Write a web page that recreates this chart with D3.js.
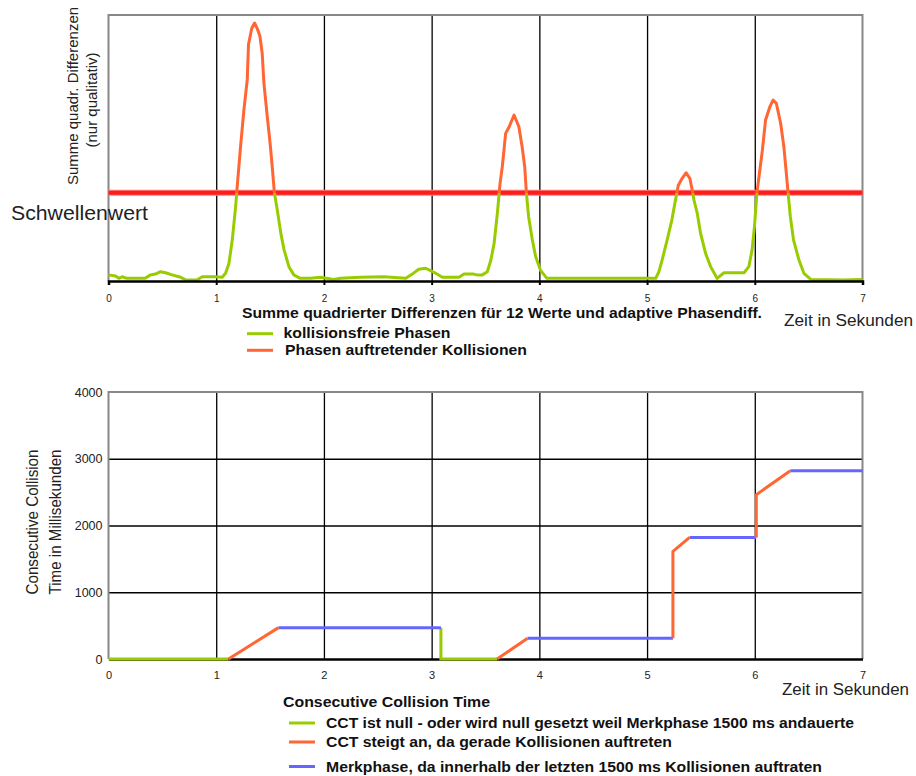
<!DOCTYPE html>
<html>
<head>
<meta charset="utf-8">
<script src="https://cdn.jsdelivr.net/npm/d3@7"></script>
<style>
  body { margin: 0; background: #fff; }
  svg { font-family: "Liberation Sans", Arial, sans-serif; }
</style>
</head>
<body>
<svg width="916" height="776"></svg>
<script>
// top chart: sum of squared differences (qualitative), time in seconds
const sigT = [0, 0.065, 0.096, 0.127, 0.17, 0.34, 0.39, 0.436, 0.483, 0.53, 0.59, 0.67, 0.715, 0.82, 0.87, 0.99,
  1.056, 1.087, 1.118, 1.149, 1.18, 1.20, 1.226, 1.257, 1.288, 1.30, 1.33, 1.356, 1.38, 1.406, 1.427, 1.443, 1.474,
  1.50, 1.52, 1.54, 1.567, 1.6, 1.63, 1.675, 1.72, 1.78, 1.876, 1.97, 2.09, 2.155, 2.34, 2.557, 2.76, 2.82, 2.88,
  2.944, 2.99, 3.037, 3.10, 3.254, 3.30, 3.39, 3.42, 3.47, 3.517, 3.55, 3.58, 3.61, 3.635, 3.656, 3.687, 3.72, 3.765,
  3.81, 3.84, 3.864, 3.88, 3.90, 3.935, 3.966, 4.01, 4.07, 4.69, 5.08, 5.11, 5.14, 5.186, 5.23, 5.264, 5.29, 5.326,
  5.363, 5.397, 5.42, 5.435, 5.466, 5.497, 5.543, 5.59, 5.65, 5.714, 5.9, 5.945, 5.975, 5.997, 6.02, 6.07, 6.1, 6.14,
  6.17, 6.2, 6.24, 6.27, 6.307, 6.33, 6.36, 6.41, 6.456, 6.52, 6.82, 7.0]
const sigV = [2.3, 1.9, 1.0, 1.6, 1.0, 1.0, 2.3, 2.6, 3.5, 3.1, 2.3, 1.4, 0.4, 0.4, 1.6, 1.6,
  1.4, 2.9, 6.6, 15.4, 27.9, 38, 50.5, 64.3, 75.6, 89, 95, 97, 95, 92, 85.6, 74.3, 61.8,
  51.8, 43, 33.2, 26.7, 17.9, 11.7, 5.4, 2.3, 1.0, 1.0, 1.4, 0.6, 1.0, 1.4, 1.6, 1.0, 2.6, 4.4,
  4.8, 3.9, 2.9, 1.4, 1.4, 2.6, 2.6, 2.3, 2.3, 3.5, 7.9, 14.2, 25.4, 36.7, 43, 55.5, 58, 62.4,
  58, 50.5, 43, 33, 24.2, 15.4, 9.1, 4.1, 1.0, 1.0, 1.0, 3.5, 7.9, 15.4, 22.9, 30.5, 36, 38.6,
  40.7, 38.6, 34, 30.5, 25.4, 17.9, 10.4, 5.4, 1.0, 3.1, 3.1, 5.4, 11.7, 20.4, 33.2, 49, 60.5, 65.5,
  68, 66.8, 59.3, 50.5, 34.2, 24.2, 15.4, 7.9, 2.9, 0.6, 0.4, 0.6]
const threshold = 33.2
const seconds = [0, 1, 2, 3, 4, 5, 6, 7]

// bottom chart: consecutive collision time in ms
const cctZero = [[[0, 0], [1.114, 0]], [[3.086, 470], [3.086, 0], [3.607, 0]]]
const cctRise = [[[1.114, 0], [1.578, 470]], [[3.607, 0], [3.891, 310]],
  [[5.24, 310], [5.24, 1612], [5.395, 1822]], [[6.014, 1822], [6.014, 2461], [6.33, 2821]]]
const cctHold = [[[1.578, 470], [3.086, 470]], [[3.891, 310], [5.24, 310]],
  [[5.395, 1822], [6.014, 1822]], [[6.33, 2821], [7, 2821]]]
const msTicks = [0, 1000, 2000, 3000, 4000]

const topLegend = ["kollisionsfreie Phasen", "Phasen auftretender Kollisionen"]
const botLegend = ["CCT ist null - oder wird null gesetzt weil Merkphase 1500 ms andauerte",
  "CCT steigt an, da gerade Kollisionen auftreten",
  "Merkphase, da innerhalb der letzten 1500 ms Kollisionen auftraten"]

const GREEN = "#99cc00", ORANGE = "#ff6633", BLUE = "#6666ff", RED = "#ff1c1c"

const svg = d3.select("svg")

// ---------- top chart ----------
const x1 = d3.scaleLinear().domain([0, 7]).range([108.5, 862.5])
const y1 = d3.scaleLinear().domain([0, 100]).range([281, 15])

const g1 = svg.append("g")

g1.append("g")
  .attr("transform", "translate(0,281)")
  .call(d3.axisBottom(x1).tickValues(seconds.slice(1, 7)).tickSize(-266).tickFormat(""))
  .call(g => g.select(".domain").remove())
  .call(g => g.selectAll("line").attr("stroke", "#000").attr("stroke-width", 1.3))

g1.append("path")
  .attr("d", `M108.5,281V15H862.5V281`)
  .attr("fill", "none").attr("stroke", "#888").attr("stroke-width", 2)

g1.append("line")
  .attr("x1", x1(0)).attr("x2", x1(7))
  .attr("y1", y1(threshold)).attr("y2", y1(threshold))
  .attr("stroke", "#ff8080").attr("stroke-width", 6)
g1.append("line")
  .attr("x1", x1(0)).attr("x2", x1(7))
  .attr("y1", y1(threshold)).attr("y2", y1(threshold))
  .attr("stroke", RED).attr("stroke-width", 4)

const sig = sigT.map((t, i) => [t, sigV[i]])
const line1 = d3.line().x(d => x1(d[0])).y(d => y1(d[1]))

svg.append("clipPath").attr("id", "above")
  .append("rect").attr("x", 0).attr("y", 0).attr("width", 916).attr("height", y1(threshold))
svg.append("clipPath").attr("id", "below")
  .append("rect").attr("x", 0).attr("y", y1(threshold)).attr("width", 916).attr("height", 300)

g1.append("path").datum(sig).attr("d", line1)
  .attr("clip-path", "url(#below)")
  .attr("fill", "none").attr("stroke", GREEN).attr("stroke-width", 3).attr("stroke-linejoin", "round")
g1.append("path").datum(sig).attr("d", line1)
  .attr("clip-path", "url(#above)")
  .attr("fill", "none").attr("stroke", ORANGE).attr("stroke-width", 3).attr("stroke-linejoin", "round")

g1.append("g")
  .attr("transform", "translate(0,281)")
  .call(d3.axisBottom(x1).tickValues(seconds).tickSize(4).tickPadding(10).tickFormat(d3.format("d")))
  .call(g => g.select(".domain").attr("stroke", "#000").attr("stroke-width", 2.5))
  .call(g => g.selectAll("line").attr("stroke", "#000").attr("stroke-width", 2))
  .call(g => g.selectAll("text").attr("font-size", 10).attr("fill", "#222").attr("font-family", "Liberation Sans"))

g1.append("text")
  .attr("transform", "translate(78,96) rotate(-90)")
  .attr("text-anchor", "middle").attr("font-size", 15).attr("fill", "#222")
  .text("Summe quadr. Differenzen")
g1.append("text")
  .attr("transform", "translate(97,100) rotate(-90)")
  .attr("text-anchor", "middle").attr("font-size", 15).attr("fill", "#222")
  .text("(nur qualitativ)")

g1.append("text")
  .attr("x", 11).attr("y", 220).attr("font-size", 19.5).attr("fill", "#222")
  .attr("textLength", 137).attr("lengthAdjust", "spacingAndGlyphs")
  .text("Schwellenwert")

g1.append("text")
  .attr("x", 242).attr("y", 318).attr("font-size", 14).attr("font-weight", "bold").attr("fill", "#111")
  .attr("textLength", 520).attr("lengthAdjust", "spacingAndGlyphs")
  .text("Summe quadrierter Differenzen für 12 Werte und adaptive Phasendiff.")
g1.append("text")
  .attr("x", 784).attr("y", 326).attr("font-size", 16).attr("fill", "#222")
  .attr("textLength", 129).attr("lengthAdjust", "spacingAndGlyphs")
  .text("Zeit in Sekunden")

const topLegWidths = [167, 242]
const topLeg = g1.selectAll(".tl").data(topLegend).join("g")
  .attr("transform", (d, i) => `translate(0,${333.7 + i * 16.6})`)
topLeg.append("line").attr("x1", 247).attr("x2", 273)
  .attr("stroke", (d, i) => [GREEN, ORANGE][i]).attr("stroke-width", 3)
topLeg.append("text").attr("x", (d, i) => [283.5, 285][i]).attr("y", 4.5)
  .attr("font-size", 14).attr("font-weight", "bold").attr("fill", "#111")
  .attr("textLength", (d, i) => topLegWidths[i]).attr("lengthAdjust", "spacingAndGlyphs")
  .text(d => d)

// ---------- bottom chart ----------
const x2 = d3.scaleLinear().domain([0, 7]).range([108.5, 862.5])
const y2 = d3.scaleLinear().domain([0, 4000]).range([659, 392])

const g2 = svg.append("g")

g2.append("g")
  .attr("transform", "translate(0,659)")
  .call(d3.axisBottom(x2).tickValues(seconds.slice(1, 7)).tickSize(-267).tickFormat(""))
  .call(g => g.select(".domain").remove())
  .call(g => g.selectAll("line").attr("stroke", "#000").attr("stroke-width", 1.3))
g2.append("g")
  .attr("transform", "translate(108.5,0)")
  .call(d3.axisLeft(y2).tickValues(msTicks.slice(1, 4)).tickSize(-754).tickFormat(""))
  .call(g => g.select(".domain").remove())
  .call(g => g.selectAll("line").attr("stroke", "#000").attr("stroke-width", 1.3))

g2.append("path")
  .attr("d", `M108.5,659V392H862.5V659`)
  .attr("fill", "none").attr("stroke", "#888").attr("stroke-width", 2)

g2.append("g")
  .attr("transform", "translate(108.5,0)")
  .call(d3.axisLeft(y2).tickValues(msTicks).tickSize(0).tickPadding(6).tickFormat(d3.format("d")))
  .call(g => g.select(".domain").remove())
  .call(g => g.selectAll("text").attr("font-size", 12.5).attr("fill", "#222").attr("font-family", "Liberation Sans"))

g2.append("g")
  .attr("transform", "translate(0,659)")
  .call(d3.axisBottom(x2).tickValues(seconds).tickSize(0).tickPadding(12).tickFormat(d3.format("d")))
  .call(g => g.select(".domain").attr("stroke", "#000").attr("stroke-width", 2.5))
  .call(g => g.selectAll("text").attr("font-size", 11).attr("fill", "#222").attr("font-family", "Liberation Sans"))

const line2 = d3.line().x(d => x2(d[0])).y(d => y2(d[1]))
const seriesSets = [[cctZero, GREEN], [cctHold, BLUE], [cctRise, ORANGE]]
seriesSets.forEach(([segs, col]) => {
  g2.selectAll(null).data(segs).join("path")
    .attr("d", line2)
    .attr("fill", "none").attr("stroke", col).attr("stroke-width", 3)
    .attr("stroke-linejoin", "miter")
})

g2.append("text")
  .attr("transform", "translate(38,522) rotate(-90)")
  .attr("text-anchor", "middle").attr("font-size", 17).attr("fill", "#222")
  .attr("textLength", 145).attr("lengthAdjust", "spacingAndGlyphs")
  .text("Consecutive Collision")
g2.append("text")
  .attr("transform", "translate(61,522) rotate(-90)")
  .attr("text-anchor", "middle").attr("font-size", 17).attr("fill", "#222")
  .attr("textLength", 145).attr("lengthAdjust", "spacingAndGlyphs")
  .text("Time in Millisekunden")

g2.append("text")
  .attr("x", 283).attr("y", 707).attr("font-size", 15).attr("font-weight", "bold").attr("fill", "#111")
  .attr("textLength", 207).attr("lengthAdjust", "spacingAndGlyphs")
  .text("Consecutive Collision Time")
g2.append("text")
  .attr("x", 782).attr("y", 695).attr("font-size", 16).attr("fill", "#222")
  .attr("textLength", 127).attr("lengthAdjust", "spacingAndGlyphs")
  .text("Zeit in Sekunden")

const botLegWidths = [528, 346, 496]
const botLeg = g2.selectAll(".bl").data(botLegend).join("g")
  .attr("transform", (d, i) => `translate(0,${[723, 742, 766.5][i]})`)
botLeg.append("line").attr("x1", 289).attr("x2", 315)
  .attr("stroke", (d, i) => [GREEN, ORANGE, BLUE][i]).attr("stroke-width", 3)
botLeg.append("text").attr("x", 326).attr("y", 5).attr("font-size", 14).attr("font-weight", "bold").attr("fill", "#111")
  .attr("textLength", (d, i) => botLegWidths[i]).attr("lengthAdjust", "spacingAndGlyphs")
  .text(d => d)
</script>
</body>
</html>
